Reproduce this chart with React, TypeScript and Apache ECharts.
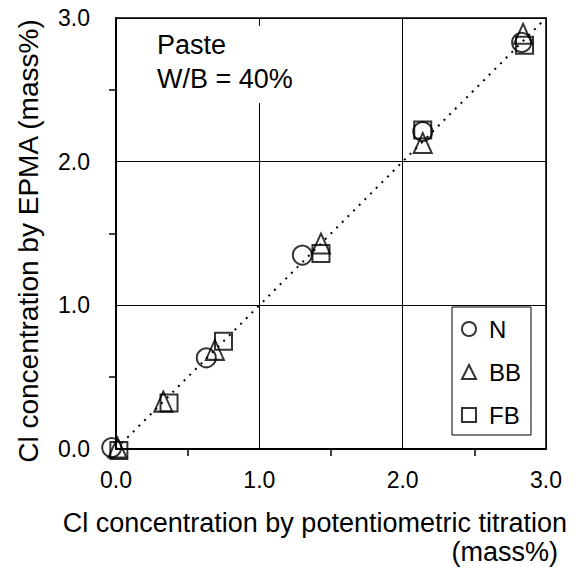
import React, { useEffect, useRef } from 'react';
import * as echarts from 'echarts';

const seriesNames = ['N', 'BB', 'FB'];
const seriesSymbols = ['circle', 'triangle', 'rect'];
const seriesSizes: (number | number[])[] = [19, [18, 20], 17];
const nPoints = [[-0.03, 0.01], [0.63, 0.635], [1.3, 1.35], [2.14, 2.21], [2.83, 2.83]];
const bbPoints = [[0.01, 0.01], [0.33, 0.33], [0.69, 0.69], [1.43, 1.43], [2.14, 2.13], [2.84, 2.89]];
const fbPoints = [[0.02, -0.01], [0.37, 0.32], [0.75, 0.75], [1.43, 1.36], [2.14, 2.22], [2.85, 2.81]];
const lineOfEquality = [[0, 0], [3, 3]];
const tickLabels = ['0.0', '1.0', '2.0', '3.0'];
const xTitleLines = ['Cl concentration by potentiometric titration', '(mass%)'];
const yTitle = 'Cl concentration by EPMA (mass%)';
const noteLines = ['Paste', 'W/B = 40%'];

const FONT = '"Liberation Sans", Arial, sans-serif';

export default function App() {
  const ref = useRef<HTMLDivElement>(null);
  useEffect(() => {
    if (!ref.current) return;
    const chart = echarts.init(ref.current, undefined, { renderer: 'svg' });
    const allData = [nPoints, bbPoints, fbPoints];
    const axisCommon = {
      type: 'value',
      min: 0,
      max: 3,
      interval: 1,
      axisLine: { show: true, lineStyle: { color: '#000', width: 2 } },
      axisTick: { show: false },
      minorTick: { show: true, splitNumber: 2, length: 7, lineStyle: { color: '#000', width: 1.5 } },
      splitLine: { show: true, lineStyle: { color: '#000', width: 1 } },
      minorSplitLine: { show: false },
      axisLabel: {
        color: '#000',
        fontSize: 23,
        fontFamily: FONT,
        formatter: (v: number) => tickLabels[Math.round(v)],
      },
    };
    chart.setOption({
      animation: false,
      backgroundColor: '#fff',
      textStyle: { fontFamily: FONT, color: '#000' },
      grid: {
        left: 116,
        top: 18,
        width: 430,
        height: 431,
        show: true,
        borderColor: '#000',
        borderWidth: 1.5,
        backgroundColor: 'transparent',
      },
      xAxis: {
        ...axisCommon,
        axisLabel: { ...axisCommon.axisLabel, margin: 19 },
      },
      yAxis: {
        ...axisCommon,
        axisLabel: { ...axisCommon.axisLabel, margin: 26 },
      },
      legend: {
        orient: 'vertical',
        left: 452,
        top: 307,
        data: seriesNames,
        itemWidth: 14,
        itemHeight: 14,
        itemGap: 19,
        padding: [10, 10, 8, 9],
        borderColor: '#000',
        borderWidth: 1,
        backgroundColor: '#fff',
        textStyle: { fontSize: 24, color: '#000', fontFamily: FONT, padding: [0, 0, 0, 8] },
      },
      graphic: [
        {
          type: 'rect',
          shape: { x: 150, y: 26, width: 150, height: 77 },
          style: { fill: '#fff' },
          z: 1,
        },
        {
          type: 'text',
          x: 157,
          y: 45,
          z: 2,
          style: { text: noteLines[0], fontSize: 27, fontFamily: FONT, fill: '#000', align: 'left', verticalAlign: 'middle' },
        },
        {
          type: 'text',
          x: 157,
          y: 79,
          z: 2,
          style: { text: noteLines[1], fontSize: 27, fontFamily: FONT, fill: '#000', align: 'left', verticalAlign: 'middle' },
        },
        {
          type: 'text',
          x: 567,
          y: 523,
          style: { text: xTitleLines[0], fontSize: 27, fontFamily: FONT, fill: '#000', align: 'right', verticalAlign: 'middle' },
        },
        {
          type: 'text',
          x: 558,
          y: 552,
          style: { text: xTitleLines[1], fontSize: 27, fontFamily: FONT, fill: '#000', align: 'right', verticalAlign: 'middle' },
        },
        {
          type: 'text',
          x: 28,
          y: 241,
          rotation: Math.PI / 2,
          style: { text: yTitle, fontSize: 28, fontFamily: FONT, fill: '#000', align: 'center', verticalAlign: 'middle' },
        },
      ],
      series: [
        {
          type: 'line',
          data: lineOfEquality,
          symbol: 'none',
          silent: true,
          lineStyle: { color: '#000', width: 2, type: [2, 6] },
          z: 2,
        },
        ...seriesNames.map((name, i) => ({
          type: 'scatter',
          name,
          data: allData[i],
          symbol: seriesSymbols[i],
          symbolSize: seriesSizes[i],
          clip: false,
          itemStyle: { color: 'rgba(0,0,0,0)', borderColor: '#000', borderWidth: 2 },
          z: 3,
        })),
      ],
    });
    return () => chart.dispose();
  }, []);
  return <div ref={ref} style={{ width: 578, height: 571, position: 'absolute', left: 0, top: 0 }} />;
}
